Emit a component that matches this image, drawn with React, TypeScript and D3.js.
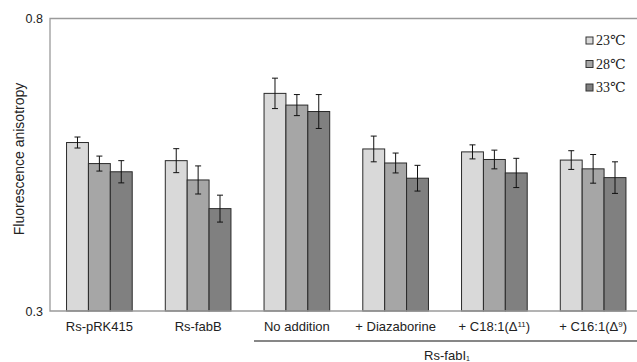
import React from "react";
import * as d3 from "d3";

const categories = ["Rs-pRK415", "Rs-fabB", "No addition", "+ Diazaborine", "+ C18:1(Δ11)", "+ C16:1(Δ9)"];
const seriesNames = ["23℃", "28℃", "33℃"];
const values23 = [0.588, 0.557, 0.672, 0.577, 0.572, 0.558];
const values28 = [0.552, 0.524, 0.652, 0.553, 0.559, 0.543];
const values33 = [0.538, 0.475, 0.641, 0.527, 0.536, 0.528];
const err23 = [0.0094, 0.0205, 0.026, 0.022, 0.012, 0.016];
const err28 = [0.0128, 0.024, 0.018, 0.017, 0.016, 0.0245];
const err33 = [0.019, 0.023, 0.029, 0.022, 0.025, 0.027];
const yTicks = [0.3, 0.8];
const colors = ["#d9d9d9", "#a6a6a6", "#808080"];

const W = 637, H = 362;

export default function App() {
  const x = d3.scaleBand<string>().domain(categories).range([50, 642.5]).paddingInner(0.335).paddingOuter(0.1675);
  const x1 = d3.scaleBand<string>().domain(seriesNames).range([0, x.bandwidth()]);
  const y = d3.scaleLinear().domain([0.3, 0.8]).range([311, 18.5]);
  const vals = [values23, values28, values33];
  const errs = [err23, err28, err33];
  const sans = "Liberation Sans, Arial, sans-serif";
  const serif = "Liberation Serif, 'DejaVu Serif', serif";
  const labelNode = (c: string) => {
    const m = c.match(/^(.*Δ)(\d+)(\).*)$/);
    if (!m) return c;
    return (
      <>
        {m[1]}
        <tspan fontSize="8" dy="-4.5">{m[2]}</tspan>
        <tspan dy="4.5">{m[3]}</tspan>
      </>
    );
  };
  return (
    <svg width={W} height={H} style={{ position: "absolute", left: 0, top: 0, background: "#fff" }}>
      <rect width={W} height={H} fill="#fff" />
      {categories.map((c, i) =>
        seriesNames.map((s, j) => {
          const bx = x(c)! + x1(s)!;
          const v = vals[j][i];
          const e = errs[j][i];
          const cx = bx + x1.bandwidth() / 2;
          return (
            <g key={c + s}>
              <rect x={bx} y={y(v)} width={x1.bandwidth()} height={y(0.3) - y(v)} fill={colors[j]} stroke="#2a2a2a" strokeWidth={1} />
              <line x1={cx} x2={cx} y1={y(v + e)} y2={y(v - e)} stroke="#111" strokeWidth={1} />
              <line x1={cx - 3} x2={cx + 3} y1={y(v + e)} y2={y(v + e)} stroke="#111" strokeWidth={1} />
              <line x1={cx - 3} x2={cx + 3} y1={y(v - e)} y2={y(v - e)} stroke="#111" strokeWidth={1} />
            </g>
          );
        })
      )}
      <path d={`M${W + 5},${y(0.8)}H50V${y(0.3)}H${W + 5}`} fill="none" stroke="#9a9a9a" strokeWidth={1.3} />
      {yTicks.map((t) => (
        <text key={t} x={43} y={y(t) + 4.5} textAnchor="end" fontFamily={sans} fontSize={12.5} fill="#222">
          {t.toFixed(1)}
        </text>
      ))}
      <text transform="translate(24,159) rotate(-90)" textAnchor="middle" fontFamily={sans} fontSize={14} fill="#222">
        Fluorescence anisotropy
      </text>
      {categories.map((c) => (
        <text key={c} x={x(c)! + x.bandwidth() / 2} y={331} textAnchor="middle" fontFamily={sans} fontSize={13} fill="#222">
          {labelNode(c)}
        </text>
      ))}
      <line x1={254} x2={W + 5} y1={341} y2={341} stroke="#111" strokeWidth={1.2} />
      <text x={447} y={360} textAnchor="middle" fontFamily={sans} fontSize={13} fill="#222">
        Rs-fabI<tspan fontSize="7" dy="1">1</tspan>
      </text>
      {seriesNames.map((s, j) => (
        <g key={s}>
          <rect x={586} y={37 + j * 23.5} width={7} height={7} fill={colors[j]} stroke="#333" strokeWidth={1} />
          <text x={596} y={45 + j * 23.5} fontFamily={serif} fontSize={14} fill="#222">
            {s}
          </text>
        </g>
      ))}
    </svg>
  );
}
